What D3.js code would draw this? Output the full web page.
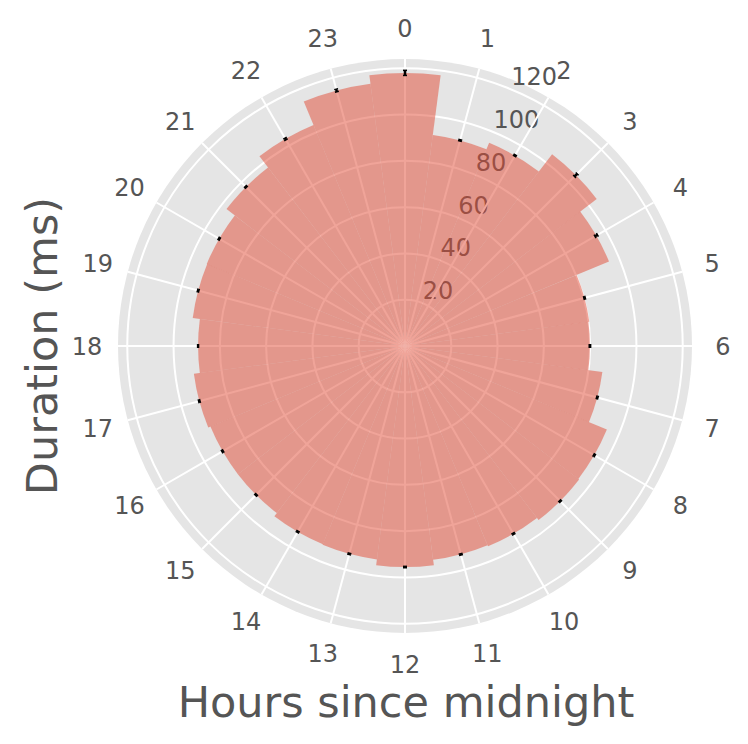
<!DOCTYPE html>
<html>
<head>
<meta charset="utf-8">
<script src="https://cdnjs.cloudflare.com/ajax/libs/d3/7.8.5/d3.min.js"></script>
<style>
  body { margin: 0; background: #fff; }
  text { font-family: "DejaVu Sans", sans-serif; fill: #555555; }
</style>
</head>
<body>
<div id="polar-chart"></div>
<script>
// hourly mean durations
const hours = d3.range(24)
const durations = [118, 92, 95, 104.4, 95.4, 80.3, 79.9, 86, 94.4, 94.8, 93.7, 93.2,
  95.5, 93, 92.7, 91, 91, 92, 89.4, 92.5, 92.7, 97.2, 103.3, 114.3]
const errors = [1.1, 0.3, 0.3, 0.8, 0.6, 0.3, 0.3, 0.3, 0.3, 0.3, 0.3, 0.3,
  0.3, 0.3, 0.3, 0.3, 0.3, 0.3, 0.2, 0.3, 0.3, 0.3, 0.4, 0.6]
const rTicks = [20, 40, 60, 80, 100, 120]
const rMax = 124

const width = 748
const height = 744
const cx = 405
const cy = 346
const outerR = 287

const svg = d3.select('#polar-chart').append('svg')
  .attr('width', width)
  .attr('height', height)

const g = svg.append('g').attr('transform', `translate(${cx}, ${cy})`)

const r = d3.scaleLinear().domain([0, rMax]).range([0, outerR])
const step = 2 * Math.PI / hours.length
const angle = d3.scaleLinear().domain([0, 24]).range([0, 2 * Math.PI])

// x,y from clockwise-from-north angle
function pt(a, rad) {
  return [rad * Math.sin(a), -rad * Math.cos(a)]
}

g.append('circle')
  .attr('r', outerR)
  .attr('fill', '#E5E5E5')

// radial tick labels sit at 22.5 deg, under the grid and the bars
const labA = 22.5 * Math.PI / 180
g.append('g').attr('class', 'r-labels')
  .selectAll('text')
  .data(rTicks)
  .enter()
  .append('text')
  .attr('x', d => pt(labA, r(d))[0])
  .attr('y', d => pt(labA, r(d))[1] - 4)
  .attr('font-size', 24)
  .text(d => d)

const grid = g.append('g').attr('class', 'grid')

grid.selectAll('.spoke')
  .data(hours)
  .enter()
  .append('line')
  .attr('class', 'spoke')
  .attr('x1', 0).attr('y1', 0)
  .attr('x2', d => pt(angle(d), outerR)[0])
  .attr('y2', d => pt(angle(d), outerR)[1])
  .attr('stroke', '#fff')
  .attr('stroke-width', 2)

grid.selectAll('.ring')
  .data(rTicks)
  .enter()
  .append('circle')
  .attr('class', 'ring')
  .attr('r', d => r(d))
  .attr('fill', 'none')
  .attr('stroke', '#fff')
  .attr('stroke-width', 2)

const arc = d3.arc()
  .innerRadius(0)
  .outerRadius(d => r(d.v))
  .startAngle(d => angle(d.h) - step / 2)
  .endAngle(d => angle(d.h) + step / 2)

const barData = hours.map((h, i) => ({h: h, v: durations[i], e: errors[i]}))

g.append('g').attr('class', 'bars')
  .selectAll('path')
  .data(barData)
  .enter()
  .append('path')
  .attr('d', arc)
  .attr('fill', '#E24A33')
  .attr('fill-opacity', 0.5)

// error bars with tiny caps
const eb = g.append('g').attr('class', 'errorbars')
  .selectAll('g')
  .data(barData)
  .enter()
  .append('g')
  .attr('transform', d => `rotate(${d.h * 15})`)

eb.append('line')
  .attr('x1', 0).attr('x2', 0)
  .attr('y1', d => -r(d.v - d.e))
  .attr('y2', d => -r(d.v + d.e))
  .attr('stroke', '#000')
  .attr('stroke-width', 2.5)

eb.selectAll('.cap')
  .data(d => [d.v - d.e, d.v + d.e])
  .enter()
  .append('line')
  .attr('class', 'cap')
  .attr('x1', -2).attr('x2', 2)
  .attr('y1', d => -r(d)).attr('y2', d => -r(d))
  .attr('stroke', '#000')
  .attr('stroke-width', 1.5)

// hour labels round the outside
g.append('g').attr('class', 'theta-labels')
  .selectAll('text')
  .data(hours)
  .enter()
  .append('text')
  .attr('x', d => pt(angle(d), 318)[0])
  .attr('y', d => pt(angle(d), 318)[1])
  .attr('dy', '0.36em')
  .attr('text-anchor', 'middle')
  .attr('font-size', 24)
  .text(d => d)

svg.append('text')
  .attr('x', 406)
  .attr('y', 717)
  .attr('text-anchor', 'middle')
  .attr('font-size', 43)
  .text('Hours since midnight')

svg.append('text')
  .attr('transform', `translate(57, ${cy}) rotate(-90)`)
  .attr('text-anchor', 'middle')
  .attr('font-size', 43)
  .text('Duration (ms)')
</script>
</body>
</html>
